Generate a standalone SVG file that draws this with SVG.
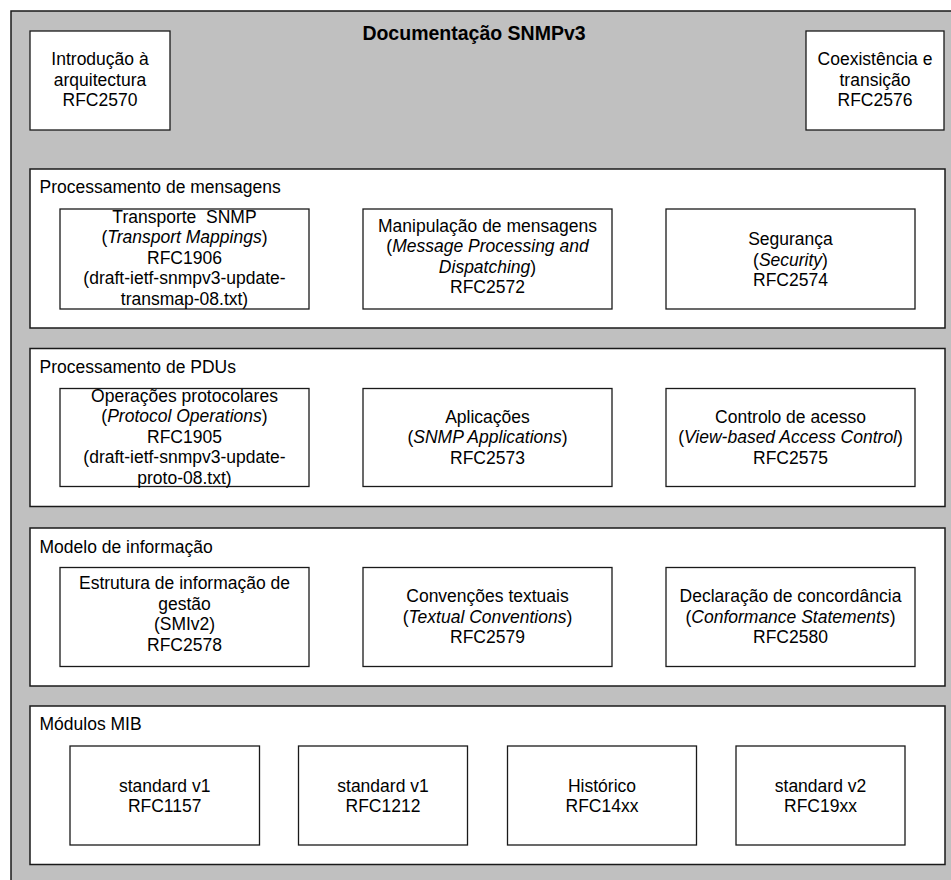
<svg xmlns="http://www.w3.org/2000/svg" width="951" height="880" viewBox="0 0 951 880">
<style>
  .bg { fill: #c0c0c0; stroke: #1a1a1a; stroke-width: 1.5; }
  .sec { fill: #ffffff; stroke: #1a1a1a; stroke-width: 1.5; }
  .box { fill: #ffffff; stroke: #1a1a1a; stroke-width: 1.3; }
  text { font-family: "Liberation Sans", Arial, sans-serif; font-size: 17.5px; fill: #000; }
  .c { text-anchor: middle; }
  .title { font-size: 19.5px; font-weight: bold; }
  .i { font-style: italic; }
</style>
<rect class="bg" x="11" y="11" width="960" height="900"/>
<text class="title c" x="474" y="40">Documentação SNMPv3</text>

<g id="intro">
  <rect class="box" x="30" y="31" width="140" height="99"/>
  <text class="c" x="100" y="65">Introdução à</text>
  <text class="c" x="100" y="85.5">arquitectura</text>
  <text class="c" x="100" y="106">RFC2570</text>
</g>
<g id="coexistencia">
  <rect class="box" x="806" y="31" width="138" height="99"/>
  <text class="c" x="875" y="65">Coexistência e</text>
  <text class="c" x="875" y="85.5">transição</text>
  <text class="c" x="875" y="106">RFC2576</text>
</g>

<g id="sec-mensagens">
  <rect class="sec" x="30" y="169" width="915" height="159"/>
  <text x="39.5" y="193">Processamento de mensagens</text>
</g>
<g id="transporte">
  <rect class="box" x="60" y="209" width="249" height="100"/>
  <text class="c" x="184.5" y="222.5" xml:space="preserve">Transporte  SNMP</text>
  <text class="c" x="184.5" y="243">(<tspan class="i">Transport Mappings</tspan>)</text>
  <text class="c" x="184.5" y="263.5">RFC1906</text>
  <text class="c" x="184.5" y="284">(draft-ietf-snmpv3-update-</text>
  <text class="c" x="184.5" y="304.5">transmap-08.txt)</text>
</g>
<g id="manipulacao">
  <rect class="box" x="363" y="209" width="249" height="100"/>
  <text class="c" x="487.5" y="231.5">Manipulação de mensagens</text>
  <text class="c" x="487.5" y="252">(<tspan class="i">Message Processing and</tspan></text>
  <text class="c" x="487.5" y="272.5"><tspan class="i">Dispatching</tspan>)</text>
  <text class="c" x="487.5" y="293">RFC2572</text>
</g>
<g id="seguranca">
  <rect class="box" x="666" y="209" width="249" height="100"/>
  <text class="c" x="790.5" y="245">Segurança</text>
  <text class="c" x="790.5" y="265.5">(<tspan class="i">Security</tspan>)</text>
  <text class="c" x="790.5" y="286">RFC2574</text>
</g>

<g id="sec-pdus">
  <rect class="sec" x="30" y="348.5" width="915" height="158"/>
  <text x="39.5" y="373">Processamento de PDUs</text>
</g>
<g id="operacoes">
  <rect class="box" x="60" y="388.5" width="249" height="98"/>
  <text class="c" x="184.5" y="401.5">Operações protocolares</text>
  <text class="c" x="184.5" y="422">(<tspan class="i">Protocol Operations</tspan>)</text>
  <text class="c" x="184.5" y="442.5">RFC1905</text>
  <text class="c" x="184.5" y="463">(draft-ietf-snmpv3-update-</text>
  <text class="c" x="184.5" y="483.5">proto-08.txt)</text>
</g>
<g id="aplicacoes">
  <rect class="box" x="363" y="388.5" width="249" height="98"/>
  <text class="c" x="487.5" y="422.5">Aplicações</text>
  <text class="c" x="487.5" y="443">(<tspan class="i">SNMP Applications</tspan>)</text>
  <text class="c" x="487.5" y="463.5">RFC2573</text>
</g>
<g id="controlo">
  <rect class="box" x="666" y="388.5" width="249" height="98"/>
  <text class="c" x="790.5" y="422.5">Controlo de acesso</text>
  <text class="c" x="790.5" y="443">(<tspan class="i">View-based Access Control</tspan>)</text>
  <text class="c" x="790.5" y="463.5">RFC2575</text>
</g>

<g id="sec-modelo">
  <rect class="sec" x="30" y="528" width="915" height="158"/>
  <text x="39.5" y="552.5">Modelo de informação</text>
</g>
<g id="estrutura">
  <rect class="box" x="60" y="567.5" width="249" height="99"/>
  <text class="c" x="184.5" y="589">Estrutura de informação de</text>
  <text class="c" x="184.5" y="609.5">gestão</text>
  <text class="c" x="184.5" y="630">(SMIv2)</text>
  <text class="c" x="184.5" y="650.5">RFC2578</text>
</g>
<g id="convencoes">
  <rect class="box" x="363" y="567.5" width="249" height="99"/>
  <text class="c" x="487.5" y="602">Convenções textuais</text>
  <text class="c" x="487.5" y="622.5">(<tspan class="i">Textual Conventions</tspan>)</text>
  <text class="c" x="487.5" y="643">RFC2579</text>
</g>
<g id="declaracao">
  <rect class="box" x="666" y="567.5" width="249" height="99"/>
  <text class="c" x="790.5" y="602">Declaração de concordância</text>
  <text class="c" x="790.5" y="622.5">(<tspan class="i">Conformance Statements</tspan>)</text>
  <text class="c" x="790.5" y="643">RFC2580</text>
</g>

<g id="sec-mib">
  <rect class="sec" x="30" y="706" width="915" height="158.5"/>
  <text x="39.5" y="730">Módulos MIB</text>
</g>
<g id="mib-1157">
  <rect class="box" x="70" y="746" width="189.5" height="99"/>
  <text class="c" x="164.7" y="791.5">standard v1</text>
  <text class="c" x="164.7" y="812">RFC1157</text>
</g>
<g id="mib-1212">
  <rect class="box" x="298.5" y="746" width="169" height="99"/>
  <text class="c" x="383" y="791.5">standard v1</text>
  <text class="c" x="383" y="812">RFC1212</text>
</g>
<g id="mib-14xx">
  <rect class="box" x="507.5" y="746" width="189" height="99"/>
  <text class="c" x="602" y="791.5">Histórico</text>
  <text class="c" x="602" y="812">RFC14xx</text>
</g>
<g id="mib-19xx">
  <rect class="box" x="736" y="746" width="169" height="99"/>
  <text class="c" x="820.5" y="791.5">standard v2</text>
  <text class="c" x="820.5" y="812">RFC19xx</text>
</g>
<g id="connectors"></g>
</svg>
